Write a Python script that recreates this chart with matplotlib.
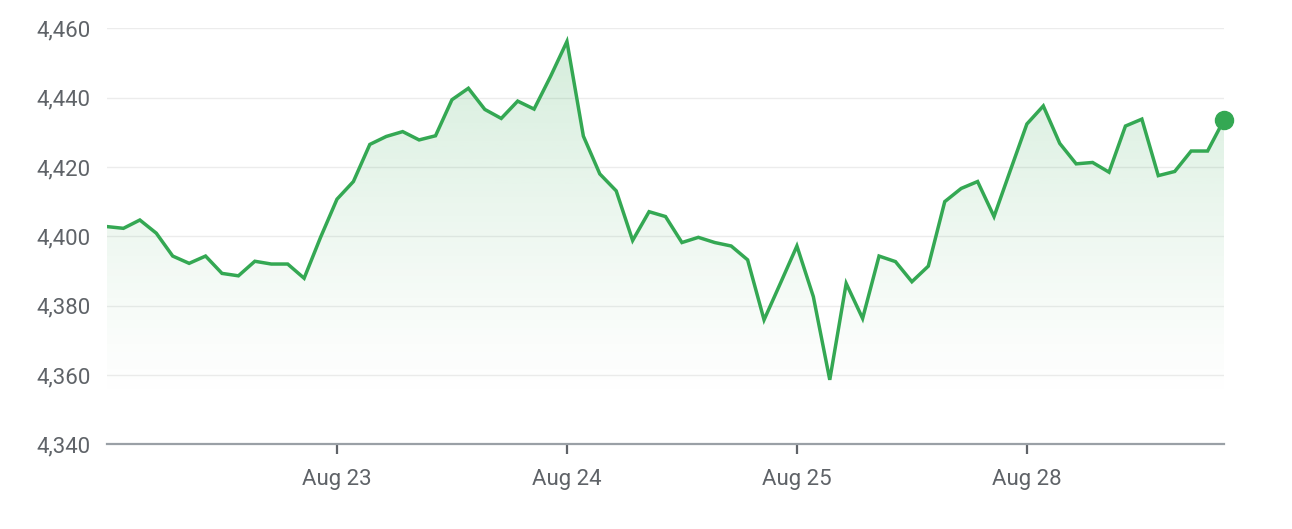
import numpy as np
import matplotlib.pyplot as plt
from matplotlib.patches import PathPatch

plt.rcParams['font.family'] = ['Roboto', 'DejaVu Sans']

# values (one point per interval)
prices = [4402.8, 4402.3, 4404.7, 4400.9, 4394.3, 4392.2, 4394.3, 4389.3, 4388.6, 4392.8,
          4392.0, 4392.0, 4387.9, 4399.7, 4410.7, 4415.8, 4426.5, 4428.8, 4430.2, 4427.8,
          4429.0, 4439.4, 4442.7, 4436.6, 4434.0, 4439.0, 4436.7, 4446.1, 4456.2, 4428.9,
          4418.0, 4413.1, 4398.8, 4407.1, 4405.7, 4398.2, 4399.7, 4398.2, 4397.2, 4393.2,
          4375.9, 4386.5, 4397.2, 4382.6, 4358.6, 4386.4, 4376.3, 4394.3, 4392.7, 4386.9,
          4391.4, 4410.0, 4413.8, 4415.8, 4405.7, 4419.1, 4432.4, 4437.6, 4426.8, 4420.9,
          4421.3, 4418.5, 4431.8, 4433.8, 4417.5, 4418.7, 4424.6, 4424.6, 4433.6]
tick_idx = [14, 28, 42, 56]
tick_labels = ['Aug 23', 'Aug 24', 'Aug 25', 'Aug 28']
y_ticks = [4340, 4360, 4380, 4400, 4420, 4440, 4460]

green = '#34a853'
x = np.arange(len(prices))
y = np.array(prices)
ymin, ymax = 4340, 4460

fig = plt.figure(figsize=(12.92, 5.29), dpi=100)
ax = fig.add_axes([107 / 1292, 1 - 444.3 / 529, 1117 / 1292, 416 / 529])

# grid
for v in y_ticks[1:]:
    ax.axhline(v, color='#ececec', lw=1, zorder=0)

# gradient fill under the line
verts = np.vstack([np.column_stack([x, y]), [[x[-1], ymin], [x[0], ymin]]])
clip = PathPatch(plt.matplotlib.path.Path(verts), transform=ax.transData, fc='none', ec='none')
ax.add_patch(clip)
grad = np.zeros((256, 1, 4))
grad[:, 0, :3] = plt.matplotlib.colors.to_rgb(green)
grad[:, 0, 3] = np.linspace(0.27, 0.0, 256) ** 1.2
img = ax.imshow(grad, aspect='auto', extent=[x[0], x[-1], ymin + 12, y.max()],
                origin='upper', zorder=1)
img.set_clip_path(clip)

ax.plot(x, y, color=green, lw=2.5, zorder=3, solid_joinstyle='miter')
ax.plot(x[-1], y[-1], 'o', color=green, ms=13, zorder=4, clip_on=False)

ax.set_xlim(0, len(prices) - 1)
ax.set_ylim(ymin, ymax)
ax.set_yticks(y_ticks)
ax.set_yticklabels([f'{v:,}' for v in y_ticks])
ax.set_xticks(tick_idx)
ax.set_xticklabels(tick_labels)

for s in ['top', 'right', 'left']:
    ax.spines[s].set_visible(False)
ax.spines['bottom'].set_color('#9aa0a6')
ax.spines['bottom'].set_linewidth(1.6)

ax.tick_params(axis='y', length=0, pad=12, labelsize=16, labelcolor='#5f6368')
ax.tick_params(axis='x', length=7, width=1.6, color='#5f6368', pad=11,
               labelsize=16, labelcolor='#5f6368')

fig.savefig('out.png', dpi=100)
